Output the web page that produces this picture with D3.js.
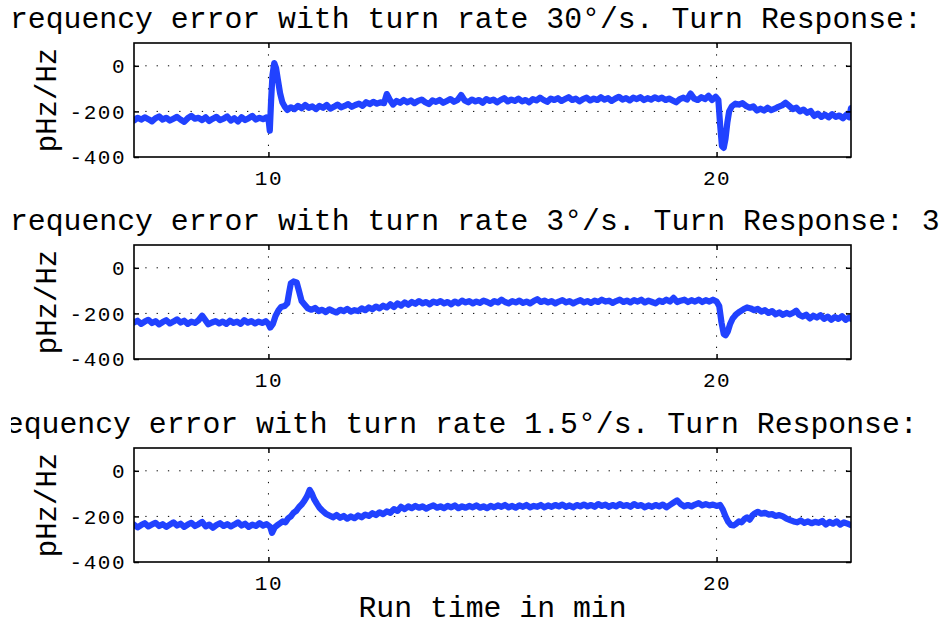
<!DOCTYPE html>
<html>
<head>
<meta charset="utf-8">
<script src="https://cdn.jsdelivr.net/npm/d3@7"></script>
<style>
  body { margin: 0; background: #fff; }
  text { font-family: "Liberation Mono", "DejaVu Sans Mono", monospace; fill: #000; }
</style>
</head>
<body>
<div id="chart"></div>
<script>
// titles, ticks and series
const titles = [
  "Frequency error with turn rate 30°/s. Turn Response:",
  "Frequency error with turn rate 3°/s. Turn Response: 3",
  "Frequency error with turn rate 1.5°/s. Turn Response:"
];
const yLabel = "pHz/Hz";
const xLabel = "Run time in min";
const yTicks = [0, -200, -400];
const xTicks = [10, 20];
const yGrid = [0, -200];

const turn30 = [[7.0,-240],[7.08,-228],[7.16,-236],[7.24,-226],[7.32,-234],[7.4,-244],[7.48,-230],[7.56,-222],[7.64,-236],[7.72,-228],[7.8,-240],[7.88,-232],[7.96,-224],[8.04,-236],[8.12,-246],[8.2,-230],[8.28,-220],[8.36,-232],[8.44,-228],[8.52,-238],[8.6,-226],[8.68,-242],[8.76,-232],[8.84,-224],[8.92,-238],[9.0,-232],[9.08,-222],[9.16,-240],[9.24,-230],[9.32,-244],[9.4,-226],[9.48,-238],[9.56,-230],[9.64,-220],[9.72,-236],[9.8,-228],[9.88,-234],[9.96,-226],[10.0,-232],[10.03,-285],[10.06,-150],[10.09,-40],[10.13,12],[10.17,-10],[10.21,-60],[10.26,-120],[10.31,-160],[10.36,-178],[10.42,-194],[10.5,-182],[10.58,-190],[10.66,-176],[10.74,-186],[10.82,-172],[10.9,-184],[10.98,-178],[11.06,-190],[11.14,-176],[11.22,-184],[11.3,-172],[11.38,-188],[11.46,-180],[11.54,-170],[11.62,-182],[11.7,-176],[11.78,-168],[11.86,-180],[11.94,-172],[12.02,-166],[12.1,-176],[12.18,-160],[12.26,-168],[12.34,-158],[12.42,-166],[12.5,-160],[12.58,-164],[12.64,-124],[12.7,-146],[12.78,-170],[12.86,-154],[12.94,-162],[13.02,-150],[13.1,-160],[13.18,-152],[13.26,-164],[13.34,-154],[13.42,-148],[13.5,-160],[13.58,-168],[13.66,-152],[13.74,-158],[13.82,-150],[13.9,-162],[13.98,-154],[14.06,-146],[14.14,-158],[14.22,-150],[14.3,-128],[14.38,-152],[14.46,-160],[14.54,-148],[14.62,-156],[14.7,-150],[14.78,-162],[14.86,-146],[14.94,-154],[15.02,-148],[15.1,-160],[15.18,-150],[15.26,-142],[15.34,-156],[15.42,-148],[15.5,-154],[15.58,-144],[15.66,-156],[15.74,-150],[15.82,-160],[15.9,-146],[15.98,-152],[16.06,-140],[16.14,-150],[16.22,-158],[16.3,-144],[16.38,-150],[16.46,-142],[16.54,-154],[16.62,-146],[16.7,-138],[16.78,-150],[16.86,-144],[16.94,-156],[17.02,-146],[17.1,-140],[17.18,-152],[17.26,-144],[17.34,-150],[17.42,-138],[17.5,-148],[17.58,-142],[17.66,-154],[17.74,-144],[17.82,-136],[17.9,-148],[17.98,-142],[18.06,-152],[18.14,-140],[18.22,-146],[18.3,-138],[18.38,-150],[18.46,-142],[18.54,-148],[18.62,-138],[18.7,-146],[18.78,-140],[18.86,-150],[18.94,-144],[19.02,-152],[19.1,-160],[19.18,-146],[19.26,-140],[19.34,-148],[19.42,-122],[19.5,-144],[19.58,-150],[19.66,-138],[19.74,-146],[19.82,-132],[19.9,-150],[19.98,-136],[20.04,-150],[20.08,-260],[20.12,-352],[20.16,-360],[20.2,-320],[20.24,-250],[20.28,-200],[20.34,-178],[20.42,-166],[20.5,-170],[20.58,-164],[20.66,-176],[20.74,-184],[20.82,-178],[20.9,-196],[20.98,-188],[21.06,-196],[21.14,-184],[21.22,-194],[21.3,-188],[21.38,-180],[21.46,-174],[21.54,-162],[21.62,-176],[21.7,-190],[21.78,-184],[21.86,-200],[21.94,-192],[22.02,-206],[22.1,-198],[22.18,-220],[22.26,-210],[22.34,-224],[22.42,-214],[22.5,-226],[22.58,-212],[22.66,-224],[22.74,-218],[22.82,-230],[22.9,-214],[22.96,-226],[23.0,-186]];

const turn3 = [[7.0,-240],[7.08,-232],[7.16,-246],[7.24,-236],[7.32,-228],[7.4,-242],[7.48,-234],[7.56,-248],[7.64,-238],[7.72,-230],[7.8,-244],[7.88,-236],[7.96,-226],[8.04,-240],[8.12,-232],[8.2,-246],[8.28,-236],[8.36,-242],[8.44,-230],[8.52,-210],[8.58,-226],[8.66,-248],[8.74,-240],[8.82,-234],[8.9,-244],[8.98,-236],[9.06,-246],[9.14,-232],[9.22,-242],[9.3,-236],[9.38,-246],[9.46,-230],[9.54,-240],[9.62,-234],[9.7,-244],[9.78,-236],[9.86,-242],[9.94,-234],[10.0,-246],[10.04,-262],[10.1,-246],[10.16,-210],[10.22,-188],[10.28,-172],[10.36,-168],[10.42,-156],[10.46,-110],[10.5,-68],[10.56,-60],[10.63,-64],[10.68,-100],[10.74,-146],[10.8,-160],[10.88,-178],[10.96,-184],[11.04,-176],[11.12,-190],[11.2,-184],[11.28,-194],[11.36,-182],[11.44,-190],[11.52,-196],[11.6,-184],[11.68,-190],[11.76,-180],[11.84,-192],[11.92,-186],[12.0,-190],[12.08,-178],[12.16,-186],[12.24,-174],[12.32,-182],[12.4,-170],[12.48,-178],[12.56,-166],[12.64,-174],[12.72,-160],[12.8,-172],[12.88,-156],[12.96,-166],[13.04,-152],[13.12,-162],[13.2,-150],[13.28,-158],[13.36,-146],[13.44,-156],[13.52,-150],[13.6,-160],[13.68,-148],[13.76,-154],[13.84,-146],[13.92,-156],[14.0,-150],[14.08,-160],[14.16,-148],[14.24,-156],[14.32,-144],[14.4,-152],[14.48,-146],[14.56,-156],[14.64,-148],[14.72,-154],[14.8,-144],[14.88,-150],[14.96,-158],[15.04,-146],[15.12,-152],[15.2,-140],[15.28,-150],[15.36,-156],[15.44,-146],[15.52,-152],[15.6,-144],[15.68,-154],[15.76,-148],[15.84,-156],[15.92,-146],[16.0,-138],[16.08,-150],[16.16,-144],[16.24,-152],[16.32,-146],[16.4,-156],[16.48,-148],[16.56,-142],[16.64,-152],[16.72,-146],[16.8,-156],[16.88,-148],[16.96,-142],[17.04,-152],[17.12,-146],[17.2,-154],[17.28,-144],[17.36,-150],[17.44,-140],[17.52,-148],[17.6,-144],[17.68,-154],[17.76,-146],[17.84,-140],[17.92,-150],[18.0,-144],[18.08,-152],[18.16,-142],[18.24,-148],[18.32,-140],[18.4,-152],[18.48,-144],[18.56,-150],[18.64,-156],[18.72,-144],[18.8,-150],[18.88,-140],[18.96,-148],[19.04,-132],[19.12,-150],[19.2,-144],[19.28,-140],[19.36,-150],[19.44,-142],[19.52,-148],[19.6,-140],[19.68,-150],[19.76,-142],[19.84,-148],[19.92,-140],[20.0,-148],[20.06,-168],[20.11,-240],[20.16,-290],[20.2,-296],[20.25,-280],[20.3,-248],[20.36,-222],[20.44,-204],[20.52,-192],[20.6,-182],[20.68,-174],[20.76,-178],[20.84,-186],[20.92,-180],[21.0,-192],[21.08,-186],[21.16,-198],[21.24,-190],[21.32,-204],[21.4,-196],[21.48,-206],[21.56,-198],[21.64,-204],[21.72,-196],[21.78,-188],[21.84,-206],[21.92,-214],[22.0,-206],[22.08,-222],[22.16,-210],[22.24,-218],[22.32,-208],[22.4,-224],[22.48,-214],[22.56,-228],[22.64,-216],[22.72,-224],[22.8,-212],[22.88,-228],[22.96,-218],[23.0,-224]];

const turn1_5 = [[7.0,-236],[7.08,-248],[7.16,-238],[7.24,-230],[7.32,-244],[7.4,-236],[7.48,-228],[7.56,-242],[7.64,-234],[7.72,-246],[7.8,-236],[7.88,-226],[7.96,-240],[8.04,-232],[8.12,-246],[8.2,-236],[8.28,-228],[8.36,-242],[8.44,-234],[8.52,-224],[8.6,-244],[8.68,-236],[8.76,-250],[8.84,-238],[8.92,-230],[9.0,-242],[9.08,-234],[9.16,-244],[9.24,-236],[9.32,-226],[9.4,-240],[9.48,-232],[9.56,-246],[9.64,-236],[9.72,-242],[9.8,-230],[9.88,-240],[9.96,-234],[10.04,-246],[10.08,-272],[10.14,-248],[10.2,-238],[10.26,-230],[10.32,-222],[10.38,-226],[10.44,-208],[10.5,-200],[10.56,-184],[10.62,-176],[10.68,-160],[10.74,-148],[10.8,-132],[10.86,-112],[10.92,-84],[10.97,-100],[11.02,-124],[11.08,-144],[11.14,-162],[11.2,-174],[11.28,-188],[11.36,-196],[11.44,-204],[11.52,-194],[11.6,-206],[11.68,-198],[11.76,-210],[11.84,-200],[11.92,-208],[12.0,-196],[12.08,-204],[12.16,-192],[12.24,-198],[12.32,-186],[12.4,-194],[12.48,-182],[12.56,-190],[12.64,-178],[12.72,-184],[12.8,-168],[12.88,-176],[12.96,-158],[13.04,-168],[13.12,-156],[13.2,-164],[13.28,-154],[13.36,-162],[13.44,-156],[13.52,-166],[13.6,-158],[13.68,-152],[13.76,-162],[13.84,-156],[13.92,-164],[14.0,-154],[14.08,-160],[14.16,-152],[14.24,-164],[14.32,-156],[14.4,-162],[14.48,-154],[14.56,-160],[14.64,-152],[14.72,-162],[14.8,-156],[14.88,-164],[14.96,-154],[15.04,-160],[15.12,-152],[15.2,-158],[15.28,-150],[15.36,-160],[15.44,-154],[15.52,-162],[15.6,-152],[15.68,-158],[15.76,-150],[15.84,-160],[15.92,-154],[16.0,-158],[16.08,-150],[16.16,-160],[16.24,-152],[16.32,-158],[16.4,-150],[16.48,-156],[16.56,-148],[16.64,-158],[16.72,-152],[16.8,-160],[16.88,-150],[16.96,-156],[17.04,-148],[17.12,-156],[17.2,-150],[17.28,-158],[17.36,-146],[17.44,-154],[17.52,-148],[17.6,-158],[17.68,-150],[17.76,-156],[17.84,-146],[17.92,-154],[18.0,-150],[18.08,-158],[18.16,-146],[18.24,-154],[18.32,-150],[18.4,-160],[18.48,-152],[18.56,-158],[18.64,-150],[18.72,-156],[18.8,-148],[18.88,-160],[18.96,-150],[19.04,-140],[19.12,-130],[19.2,-146],[19.28,-156],[19.36,-150],[19.44,-156],[19.52,-148],[19.6,-142],[19.68,-152],[19.76,-146],[19.84,-152],[19.92,-148],[20.0,-154],[20.08,-150],[20.14,-170],[20.2,-200],[20.26,-224],[20.32,-238],[20.38,-240],[20.44,-232],[20.5,-222],[20.56,-226],[20.62,-212],[20.68,-204],[20.74,-214],[20.8,-196],[20.86,-186],[20.92,-180],[21.0,-188],[21.08,-184],[21.16,-192],[21.24,-190],[21.32,-198],[21.4,-194],[21.48,-200],[21.56,-210],[21.64,-216],[21.72,-222],[21.8,-226],[21.88,-218],[21.96,-228],[22.04,-222],[22.12,-230],[22.2,-224],[22.28,-228],[22.36,-220],[22.44,-236],[22.52,-224],[22.6,-232],[22.68,-222],[22.76,-236],[22.84,-226],[22.92,-232],[23.0,-238]];

const series = [turn30, turn3, turn1_5];

// layout
let W = 945, H = 624;
let left = 134, right = 851;
let panelTops = [43, 245, 448];
let panelH = 114;
let titleStart = [-8, -8, -30];
let blue = "#2142ff";

var svg = d3.select("#chart")
  .append("svg")
    .attr("width", W)
    .attr("height", H);

// clip for titles that run past the left edge
svg.append("defs").append("clipPath")
    .attr("id", "titleClip")
  .append("rect")
    .attr("x", 11).attr("y", 0)
    .attr("width", W - 11).attr("height", H);

var x = d3.scaleLinear()
  .domain([7, 23])
  .range([left, right]);

series.forEach((data, i) => {
  let top = panelTops[i];
  var y = d3.scaleLinear()
    .domain([-400, 100])
    .range([top + panelH, top]);

  let g = svg.append("g");

  // dotted grid
  g.selectAll(".hgrid")
    .data(yGrid)
    .enter()
    .append("line")
      .attr("x1", left).attr("x2", right)
      .attr("y1", d => y(d)).attr("y2", d => y(d))
      .attr("stroke", "#000")
      .attr("stroke-width", 1)
      .attr("stroke-dasharray", "1.3,10");
  g.selectAll(".vgrid")
    .data(xTicks)
    .enter()
    .append("line")
      .attr("x1", d => x(d)).attr("x2", d => x(d))
      .attr("y1", top).attr("y2", top + panelH)
      .attr("stroke", "#000")
      .attr("stroke-width", 1)
      .attr("stroke-dasharray", "1.3,10");

  // the series
  let clipId = "plotClip" + i;
  svg.append("defs").append("clipPath")
      .attr("id", clipId)
    .append("rect")
      .attr("x", left).attr("y", top)
      .attr("width", right - left).attr("height", panelH);

  g.append("path")
    .datum(data)
    .attr("clip-path", "url(#" + clipId + ")")
    .attr("fill", "none")
    .attr("stroke", blue)
    .attr("stroke-width", 6.2)
    .attr("stroke-linejoin", "round")
    .attr("stroke-linecap", "round")
    .attr("d", d3.line().x(d => x(d[0])).y(d => y(d[1])));

  // axes with inward ticks
  let yAxis = g.append("g")
    .attr("transform", "translate(" + left + ",0)")
    .call(d3.axisLeft(y).tickValues(yTicks).tickSize(-5).tickPadding(8).tickFormat(d => d === 0 ? "0" : "-" + Math.abs(d)));
  yAxis.select(".domain").remove();
  yAxis.selectAll("text")
    .style("font-size", "21px")
    .style("letter-spacing", "1.5px")
    .attr("font-family", null);

  g.append("g")
    .attr("transform", "translate(" + right + ",0)")
    .call(d3.axisRight(y).tickValues(yTicks).tickSize(-5).tickFormat(""))
    .select(".domain").remove();

  let xAxis = g.append("g")
    .attr("transform", "translate(0," + (top + panelH) + ")")
    .call(d3.axisBottom(x).tickValues(xTicks).tickSize(-5).tickPadding(13));
  xAxis.select(".domain").remove();
  xAxis.selectAll("text")
    .style("font-size", "21px")
    .style("letter-spacing", "1.5px")
    .attr("font-family", null);

  g.append("g")
    .attr("transform", "translate(0," + top + ")")
    .call(d3.axisTop(x).tickValues(xTicks).tickSize(-5).tickFormat(""))
    .select(".domain").remove();

  g.selectAll(".tick line")
    .attr("stroke", "#000")
    .attr("stroke-width", 1.5);

  // frame
  g.append("rect")
    .attr("x", left).attr("y", top)
    .attr("width", right - left).attr("height", panelH)
    .attr("fill", "none")
    .attr("stroke", "#000")
    .attr("stroke-width", 1.6);

  // y label
  g.append("text")
    .attr("transform", "translate(56," + (top + panelH / 2) + ") rotate(-90)")
    .attr("text-anchor", "middle")
    .style("font-size", "29px")
    .text(yLabel);

  // title
  svg.append("text")
    .attr("clip-path", "url(#titleClip)")
    .attr("x", titleStart[i])
    .attr("y", top - 15)
    .style("font-size", "29.8px")
    .text(titles[i]);
});

// x label
svg.append("text")
  .attr("x", (left + right) / 2)
  .attr("y", 617)
  .attr("text-anchor", "middle")
  .style("font-size", "29.8px")
  .text(xLabel);
</script>
</body>
</html>
